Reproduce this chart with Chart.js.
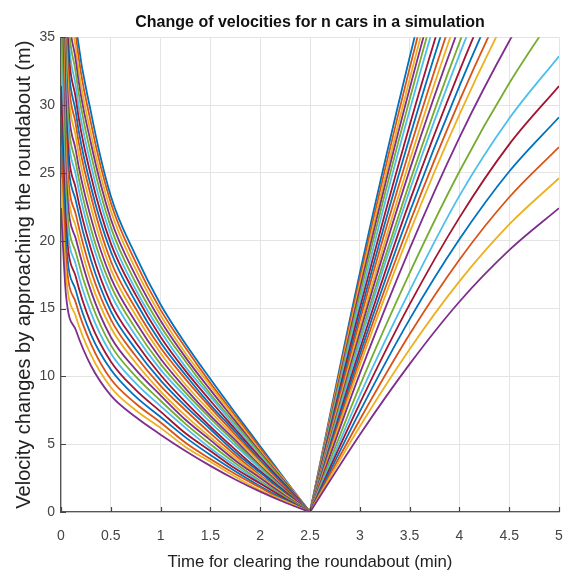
<!DOCTYPE html>
<html>
<head>
<meta charset="utf-8">
<title>Change of velocities for n cars in a simulation</title>
<script src="https://cdn.jsdelivr.net/npm/chart.js@4.4.1/dist/chart.umd.min.js"></script>
<style>
  html, body { margin: 0; padding: 0; background: #fff; }
  #wrap { width: 563px; height: 574px; }
</style>
</head>
<body>
<div id="wrap"><canvas id="velocity-chart" width="563" height="574"></canvas></div>
<script>
// time samples (min) before and after the roundabout
const approachTimes = [0, 0.05, 0.15, 0.3, 0.5, 0.75, 1, 1.25, 1.5, 1.75, 2, 2.25, 2.5];
const leaveTimes = [2.5, 3, 3.5, 4, 4.5, 5];

const xTicks = [0, 0.5, 1, 1.5, 2, 2.5, 3, 3.5, 4, 4.5, 5];
const yTicks = [0, 5, 10, 15, 20, 25, 30, 35];

// one row per car (values above 35 are cut by the axis)
const approachSpeeds = [
  [70.8, 46.0, 36.0, 29.5, 23.3, 18.9, 15.3, 12.4, 9.8, 7.3, 4.85, 2.4, 0],
  [69.0, 44.8, 35.1, 28.7, 22.8, 18.4, 14.9, 12.1, 9.5, 7.1, 4.7, 2.3, 0],
  [67.4, 43.5, 34.1, 27.9, 22.2, 17.9, 14.5, 11.7, 9.3, 6.9, 4.5, 2.3, 0],
  [65.8, 42.3, 33.2, 27.2, 21.6, 17.4, 14.1, 11.4, 9.0, 6.7, 4.4, 2.2, 0],
  [64.3, 41.1, 32.3, 26.4, 21.0, 16.9, 13.7, 11.1, 8.7, 6.5, 4.3, 2.1, 0],
  [62.5, 39.8, 31.3, 25.6, 20.4, 16.4, 13.3, 10.7, 8.5, 6.3, 4.1, 2.0, 0],
  [60.3, 38.6, 30.4, 24.8, 19.8, 16.0, 12.9, 10.4, 8.2, 6.1, 4.0, 2.0, 0],
  [58.3, 37.3, 29.4, 24.0, 19.2, 15.5, 12.5, 10.1, 7.9, 5.9, 3.8, 1.9, 0],
  [56.5, 36.1, 28.5, 23.3, 18.5, 15.0, 12.1, 9.8, 7.7, 5.7, 3.7, 1.8, 0],
  [54.8, 34.9, 27.6, 22.5, 17.9, 14.5, 11.7, 9.4, 7.4, 5.5, 3.6, 1.7, 0],
  [53.2, 33.6, 26.6, 21.7, 17.3, 14.0, 11.3, 9.1, 7.1, 5.3, 3.4, 1.7, 0],
  [51.4, 32.4, 25.7, 20.9, 16.7, 13.5, 10.9, 8.8, 6.9, 5.1, 3.3, 1.6, 0],
  [50.0, 31.2, 24.8, 20.2, 16.1, 13.0, 10.5, 8.5, 6.6, 4.9, 3.2, 1.5, 0],
  [48.3, 29.9, 23.8, 19.4, 15.4, 12.5, 10.1, 8.1, 6.3, 4.6, 3.0, 1.5, 0],
  [46.7, 28.7, 22.9, 18.6, 14.8, 12.0, 9.7, 7.8, 6.1, 4.4, 2.9, 1.4, 0],
  [45.0, 27.4, 21.9, 17.8, 14.2, 11.5, 9.3, 7.5, 5.8, 4.2, 2.7, 1.3, 0],
  [43.5, 26.2, 21.0, 17.0, 13.6, 11.0, 8.9, 7.1, 5.5, 4.0, 2.6, 1.3, 0],
  [40.9, 25.0, 20.1, 16.3, 12.9, 10.5, 8.6, 6.8, 5.3, 3.8, 2.5, 1.2, 0],
  [37.2, 23.7, 19.1, 15.5, 12.3, 10.0, 8.2, 6.5, 5.0, 3.6, 2.3, 1.1, 0],
  [33.6, 22.5, 18.2, 14.7, 11.7, 9.5, 7.8, 6.2, 4.7, 3.4, 2.2, 1.0, 0],
  [31.4, 21.3, 17.3, 13.9, 11.1, 9.0, 7.4, 5.8, 4.5, 3.2, 2.1, 1.0, 0],
  [29.1, 20.0, 16.3, 13.1, 10.5, 8.5, 7.0, 5.5, 4.2, 3.0, 1.9, 0.9, 0],
  [26.9, 18.8, 15.4, 12.4, 9.8, 8.0, 6.6, 5.1, 3.9, 2.8, 1.8, 0.8, 0],
  [24.6, 17.5, 14.4, 11.6, 9.2, 7.5, 6.2, 4.8, 3.7, 2.6, 1.6, 0.8, 0],
  [22.4, 16.0, 13.4, 10.8, 8.6, 7.0, 5.7, 4.5, 3.4, 2.4, 1.5, 0.7, 0],
];

const leaveSpeeds = [
  [0, 17.6, 33.5, 47.7, 60.1, 70.8],
  [0, 17.2, 32.7, 46.5, 58.6, 69.0],
  [0, 16.8, 31.9, 45.4, 57.2, 67.4],
  [0, 16.4, 31.2, 44.3, 55.9, 65.8],
  [0, 16.0, 30.4, 43.3, 54.6, 64.3],
  [0, 15.5, 29.6, 42.1, 53.0, 62.5],
  [0, 15.0, 28.5, 40.6, 51.2, 60.3],
  [0, 14.5, 27.6, 39.3, 49.5, 58.3],
  [0, 14.1, 26.7, 38.0, 47.9, 56.5],
  [0, 13.6, 25.9, 36.9, 46.5, 54.8],
  [0, 13.2, 25.2, 35.8, 45.1, 53.2],
  [0, 12.8, 24.3, 34.6, 43.6, 51.4],
  [0, 12.5, 23.7, 33.7, 42.5, 50.0],
  [0, 12.0, 22.9, 32.5, 41.0, 48.3],
  [0, 11.6, 22.1, 31.4, 39.6, 46.7],
  [0, 11.2, 21.3, 30.3, 38.2, 45.0],
  [0, 10.8, 20.6, 29.3, 36.9, 43.5],
  [0, 10.2, 19.4, 27.6, 34.7, 40.9],
  [0, 9.3, 17.6, 25.1, 31.6, 37.2],
  [0, 8.6, 16.3, 23.3, 29.0, 33.6],
  [0, 8.0, 15.3, 21.7, 27.1, 31.4],
  [0, 7.4, 14.2, 20.1, 25.1, 29.1],
  [0, 6.8, 13.1, 18.6, 23.2, 26.9],
  [0, 6.3, 12.0, 17.0, 21.2, 24.6],
  [0, 5.7, 10.9, 15.5, 19.3, 22.4],
];

// matlab default colour order
const lineColors = ['#0072BD', '#D95319', '#EDB120', '#7E2F8E', '#77AC30', '#4DBEEE', '#A2142F'];

const FONT = '"Liberation Sans", Arial, Helvetica, sans-serif';

const datasets = [];
approachSpeeds.forEach((row, i) => {
  const color = lineColors[i % lineColors.length];
  const common = {
    borderColor: color,
    backgroundColor: color,
    borderWidth: 1.8,
    pointRadius: 0,
    fill: false,
    cubicInterpolationMode: 'monotone',
    capBezierPoints: false,
    order: approachSpeeds.length - i,
  };
  datasets.push(Object.assign({
    label: 'car ' + (i + 1),
    data: approachTimes.map((t, j) => ({ x: t, y: row[j] })),
  }, common));
  datasets.push(Object.assign({
    label: 'car ' + (i + 1) + ' leaving',
    data: leaveTimes.map((t, j) => ({ x: t, y: leaveSpeeds[i][j] })),
  }, common));
});

// matlab style ticks pointing into the plot
const innerTicks = {
  id: 'innerTicks',
  afterDatasetsDraw(chart) {
    const { ctx, chartArea, scales: { x, y } } = chart;
    ctx.save();
    ctx.strokeStyle = '#444';
    ctx.lineWidth = 1.2;
    ctx.beginPath();
    xTicks.forEach(v => {
      const px = Math.round(x.getPixelForValue(v)) + 0.5;
      ctx.moveTo(px, chartArea.bottom);
      ctx.lineTo(px, chartArea.bottom - 5);
    });
    yTicks.forEach(v => {
      const py = Math.round(y.getPixelForValue(v)) + 0.5;
      ctx.moveTo(chartArea.left, py);
      ctx.lineTo(chartArea.left + 5, py);
    });
    ctx.stroke();
    ctx.restore();
  },
};

const el = document.getElementById('velocity-chart');
const chart = new Chart(el, {
  type: 'line',
  data: { datasets },
  plugins: [innerTicks],
  options: {
    responsive: false,
    animation: false,
    layout: { padding: { left: 0, right: 4, top: 0, bottom: 0 } },
    plugins: {
      legend: { display: false },
      tooltip: { enabled: false },
      title: {
        display: true,
        fullSize: false,
        text: 'Change of velocities for n cars in a simulation',
        color: '#111',
        font: { family: FONT, size: 16, weight: 'bold' },
        padding: { top: 13, bottom: 5 },
      },
    },
    scales: {
      x: {
        type: 'linear',
        min: 0,
        max: 5,
        afterBuildTicks: s => { s.ticks = xTicks.map(v => ({ value: v })); },
        afterFit: s => { s.height = 62; s.paddingLeft = 0; s.paddingRight = 0; },
        grid: { color: '#e4e4e4', lineWidth: 1, drawTicks: false, tickLength: 0 },
        border: { color: '#555', width: 1.3 },
        ticks: {
          color: '#444',
          padding: 16,
          maxRotation: 0,
          font: { family: FONT, size: 14 },
          callback: v => String(v),
        },
        title: {
          display: true,
          text: 'Time for clearing the roundabout (min)',
          color: '#222',
          font: { family: FONT, size: 16.8 },
          padding: { top: 0, bottom: 2 },
        },
      },
      y: {
        type: 'linear',
        min: 0,
        max: 35,
        afterBuildTicks: s => { s.ticks = yTicks.map(v => ({ value: v })); },
        afterFit: s => { s.width = 61; s.paddingTop = 0; s.paddingBottom = 0; },
        grid: { color: '#e4e4e4', lineWidth: 1, drawTicks: false, tickLength: 0 },
        border: { color: '#555', width: 1.3 },
        ticks: { color: '#444', padding: 6, font: { family: FONT, size: 14 }, callback: v => String(v) },
        title: {
          display: true,
          text: 'Velocity changes by approaching the roundabout (m)',
          color: '#222',
          font: { family: FONT, size: 20 },
          padding: { top: 12, bottom: 0 },
        },
      },
    },
  },
});
</script>
</body>
</html>
